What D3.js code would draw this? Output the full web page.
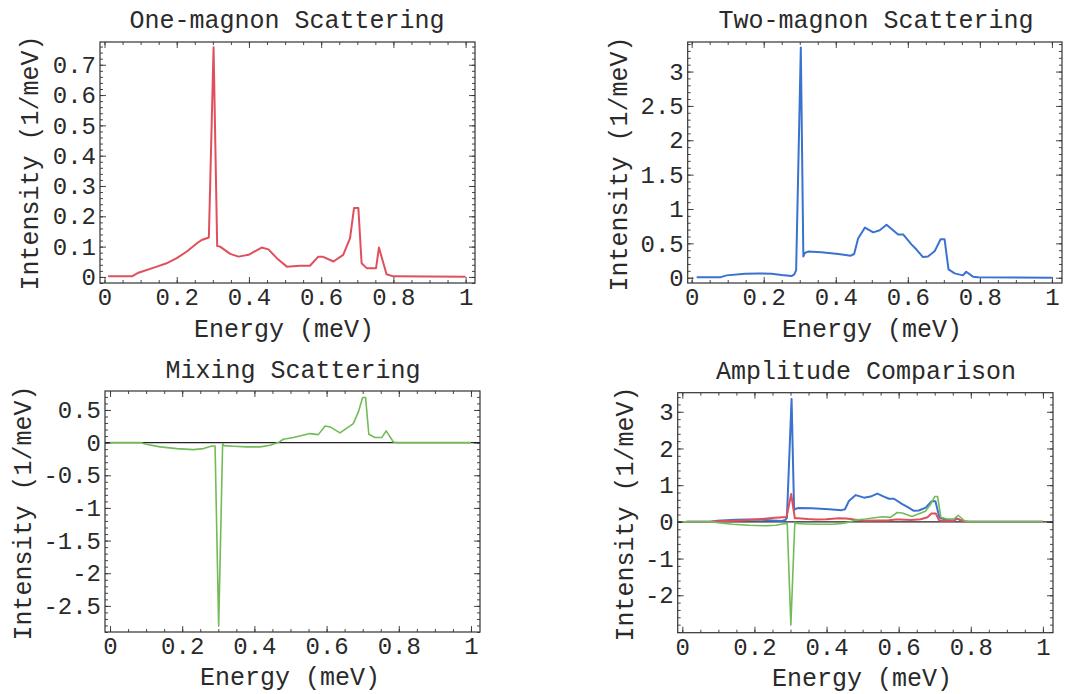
<!DOCTYPE html>
<html>
<head>
<meta charset="utf-8">
<script src="https://cdn.jsdelivr.net/npm/d3@7"></script>
<style>
  body { margin: 0; background: #fff; }
  text { font-family: "Liberation Mono", "DejaVu Sans Mono", monospace; fill: #2a2a2a; }
</style>
</head>
<body>
<div id="chart"></div>
<script>
// spectra (energy in meV, intensity in 1/meV)
const oneMagnonE = [0.01, 0.076, 0.094, 0.145, 0.172, 0.2, 0.228, 0.256, 0.269, 0.289, 0.302, 0.312, 0.32, 0.348, 0.371, 0.399, 0.435, 0.454, 0.477, 0.505, 0.541, 0.569, 0.592, 0.604, 0.634, 0.661, 0.68, 0.691, 0.703, 0.712, 0.726, 0.752, 0.76, 0.781, 0.8, 1.0];
const oneMagnonI = [0.002, 0.002, 0.014, 0.034, 0.045, 0.062, 0.084, 0.111, 0.122, 0.13, 0.758, 0.102, 0.1, 0.076, 0.067, 0.073, 0.097, 0.091, 0.062, 0.034, 0.037, 0.037, 0.067, 0.067, 0.051, 0.073, 0.128, 0.227, 0.227, 0.045, 0.029, 0.029, 0.097, 0.009, 0.002, 0.001];

const twoMagnonE = [0.014, 0.079, 0.097, 0.148, 0.185, 0.222, 0.25, 0.277, 0.285, 0.29, 0.303, 0.31, 0.314, 0.323, 0.36, 0.407, 0.442, 0.451, 0.462, 0.481, 0.504, 0.522, 0.541, 0.559, 0.573, 0.587, 0.61, 0.624, 0.642, 0.656, 0.675, 0.691, 0.702, 0.713, 0.73, 0.753, 0.762, 0.781, 0.795, 1.0];
const twoMagnonI = [0.005, 0.005, 0.034, 0.058, 0.063, 0.058, 0.039, 0.024, 0.049, 0.11, 3.35, 0.31, 0.36, 0.38, 0.37, 0.345, 0.32, 0.345, 0.57, 0.73, 0.66, 0.69, 0.77, 0.69, 0.63, 0.63, 0.485, 0.41, 0.3, 0.31, 0.39, 0.56, 0.56, 0.12, 0.063, 0.034, 0.087, 0.015, 0.005, 0.0];

const mixingE = [0.0, 0.083, 0.1, 0.139, 0.185, 0.231, 0.259, 0.282, 0.291, 0.301, 0.312, 0.316, 0.342, 0.379, 0.416, 0.443, 0.466, 0.48, 0.508, 0.554, 0.577, 0.596, 0.61, 0.637, 0.674, 0.688, 0.7, 0.708, 0.717, 0.734, 0.753, 0.765, 0.785, 0.794, 1.0];
const mixingI = [0.0, 0.0, -0.026, -0.066, -0.092, -0.107, -0.092, -0.051, -0.051, -2.81, -0.015, -0.046, -0.056, -0.066, -0.066, -0.041, 0.0, 0.051, 0.077, 0.138, 0.122, 0.255, 0.24, 0.148, 0.29, 0.47, 0.69, 0.69, 0.128, 0.077, 0.077, 0.18, 0.01, 0.0, 0.0];

const energyTicks = [0, 0.2, 0.4, 0.6, 0.8, 1];
const oneMagnonTicks = [0, 0.1, 0.2, 0.3, 0.4, 0.5, 0.6, 0.7];
const twoMagnonTicks = [0, 0.5, 1, 1.5, 2, 2.5, 3];
const mixingTicks = [-2.5, -2, -1.5, -1, -0.5, 0, 0.5];
const comparisonTicks = [-2, -1, 0, 1, 2, 3];

const titles = ['One-magnon Scattering', 'Two-magnon Scattering', 'Mixing Scattering', 'Amplitude Comparison'];

const red = '#e0505c', blue = '#3a72cf', green = '#72bb58';

const width = 1089, height = 694;
const svg = d3.select('#chart').append('svg')
  .attr('width', width)
  .attr('height', height);

const pairs = (e, v) => e.map((d, i) => [d, v[i]]);

const panels = [
  { box: [100, 42, 475, 283], xDom: [-0.0125, 1.026], yDom: [-0.02, 0.775], yTicks: oneMagnonTicks, yMinor: 0.02,
    series: [{ data: pairs(oneMagnonE, oneMagnonI), color: red, w: 2 }], zero: false,
    title: [287, 28], xlab: [284, 337], ylab: [38, 163] },
  { box: [687.7, 42, 1062, 283], xDom: [-0.011, 1.028], yDom: [-0.077, 3.43], yTicks: twoMagnonTicks, yMinor: 0.1,
    series: [{ data: pairs(twoMagnonE, twoMagnonI), color: blue, w: 2 }], zero: false,
    title: [876, 28], xlab: [872, 337], ylab: [627, 164] },
  { box: [105, 391, 480, 632], xDom: [-0.0139, 1.025], yDom: [-2.9, 0.79], yTicks: mixingTicks, yMinor: 0.1,
    series: [{ data: pairs(mixingE, mixingI), color: green, w: 1.6 }], zero: true,
    title: [293, 378], xlab: [290, 685], ylab: [31, 513] },
  { box: [677.7, 392.7, 1053, 632.7], xDom: [-0.0128, 1.028], yDom: [-3.02, 3.52], yTicks: comparisonTicks, yMinor: 0.2,
    series: [
      { data: pairs(twoMagnonE, twoMagnonI), color: blue, w: 2 },
      { data: pairs(oneMagnonE, oneMagnonI), color: red, w: 2 },
      { data: pairs(mixingE, mixingI), color: green, w: 1.6 }
    ], zero: true,
    title: [866, 379], xlab: [862, 686], ylab: [633, 514] }
];

const fmt = d => String(+d.toFixed(2));

function range(a, b, step) {
  const out = [];
  for (let v = Math.ceil(a / step - 1e-9) * step; v <= b + 1e-9; v += step) out.push(+v.toFixed(4));
  return out;
}

panels.forEach((p, i) => {
  const [x0, y0, x1, y1] = p.box;
  const w = x1 - x0, h = y1 - y0;
  const x = d3.scaleLinear().domain(p.xDom).range([0, w]);
  const y = d3.scaleLinear().domain(p.yDom).range([h, 0]);

  const g = svg.append('g').attr('transform', `translate(${x0},${y0})`);

  const xMinor = range(p.xDom[0], p.xDom[1], 0.05);
  const yMinor = range(p.yDom[0], p.yDom[1], p.yMinor);

  const style = sel => {
    sel.select('.domain').remove();
    sel.selectAll('line').attr('stroke', '#333').attr('stroke-width', 0.9);
  };

  // minor ticks, all four sides
  g.append('g').attr('transform', `translate(0,${h})`)
    .call(d3.axisBottom(x).tickValues(xMinor).tickSize(-3).tickFormat('')).call(style);
  g.append('g').call(d3.axisTop(x).tickValues(xMinor).tickSize(-3).tickFormat('')).call(style);
  g.append('g').call(d3.axisLeft(y).tickValues(yMinor).tickSize(-3).tickFormat('')).call(style);
  g.append('g').attr('transform', `translate(${w},0)`)
    .call(d3.axisRight(y).tickValues(yMinor).tickSize(-3).tickFormat('')).call(style);

  // major ticks
  g.append('g').attr('transform', `translate(0,${h})`)
    .call(d3.axisBottom(x).tickValues(energyTicks).tickSize(-6).tickPadding(5).tickFormat(fmt)).call(style)
    .selectAll('text').style('font-size', '24px').attr('fill', '#2a2a2a');
  g.append('g').call(d3.axisTop(x).tickValues(energyTicks).tickSize(-6).tickFormat('')).call(style);
  g.append('g')
    .call(d3.axisLeft(y).tickValues(p.yTicks).tickSize(-6).tickPadding(4).tickFormat(fmt)).call(style)
    .selectAll('text').style('font-size', '24px').attr('fill', '#2a2a2a');
  g.append('g').attr('transform', `translate(${w},0)`)
    .call(d3.axisRight(y).tickValues(p.yTicks).tickSize(-6).tickFormat('')).call(style);

  if (p.zero) {
    g.append('line')
      .attr('x1', 0).attr('x2', w)
      .attr('y1', y(0)).attr('y2', y(0))
      .attr('stroke', '#222').attr('stroke-width', 1.1);
  }

  const line = d3.line().x(d => x(d[0])).y(d => y(d[1]));
  p.series.forEach(s => {
    g.append('path')
      .datum(s.data)
      .attr('d', line)
      .attr('fill', 'none')
      .attr('stroke', s.color)
      .attr('stroke-width', s.w)
      .attr('stroke-linejoin', 'round');
  });

  // frame
  g.append('rect')
    .attr('width', w).attr('height', h)
    .attr('fill', 'none').attr('stroke', '#333').attr('stroke-width', 1.2);

  svg.append('text')
    .attr('x', p.title[0]).attr('y', p.title[1])
    .attr('text-anchor', 'middle').style('font-size', '25px')
    .text(titles[i]);

  svg.append('text')
    .attr('x', p.xlab[0]).attr('y', p.xlab[1])
    .attr('text-anchor', 'middle').style('font-size', '25px')
    .text('Energy (meV)');

  svg.append('text')
    .attr('transform', `translate(${p.ylab[0]},${p.ylab[1]}) rotate(-90)`)
    .attr('text-anchor', 'middle').style('font-size', '25px')
    .text('Intensity (1/meV)');
});
</script>
</body>
</html>
